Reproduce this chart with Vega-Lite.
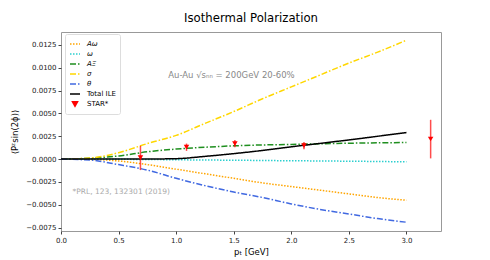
{
  "$schema": "https://vega.github.io/schema/vega-lite/v6.json",
  "width": 380,
  "height": 199,
  "autosize": {"type": "none"},
  "padding": {"left": 61, "top": 32, "right": 49, "bottom": 29},
  "title": {"text": "Isothermal Polarization", "fontSize": 11.7, "font": "DejaVu Sans", "fontWeight": "normal", "offset": 7, "color": "#000"},
  "config": {
    "font": "DejaVu Sans",
    "view": {"stroke": "#999", "strokeWidth": 1},
    "axis": {"grid": false, "domain": false, "tickColor": "#444", "labelColor": "#222", "labelFontSize": 7, "titleFontSize": 8.5, "titleFontWeight": "normal", "titleColor": "#000", "tickSize": 3, "labelPadding": 2, "labelOverlap": false, "labelFlush": false}
  },
  "datasets": {
    "curves": [
      {"series": "Aω", "pt": 0, "val": 0}, {"series": "Aω", "pt": 0.25, "val": -0.00003}, {"series": "Aω", "pt": 0.5, "val": -0.0002}, {"series": "Aω", "pt": 0.75, "val": -0.0006}, {"series": "Aω", "pt": 1.0, "val": -0.0011}, {"series": "Aω", "pt": 1.25, "val": -0.0016}, {"series": "Aω", "pt": 1.5, "val": -0.0021}, {"series": "Aω", "pt": 1.75, "val": -0.0026}, {"series": "Aω", "pt": 2.0, "val": -0.003}, {"series": "Aω", "pt": 2.25, "val": -0.0034}, {"series": "Aω", "pt": 2.5, "val": -0.0038}, {"series": "Aω", "pt": 2.75, "val": -0.0042}, {"series": "Aω", "pt": 3.0, "val": -0.0045},
      {"series": "ω", "pt": 0, "val": 0}, {"series": "ω", "pt": 0.25, "val": 0}, {"series": "ω", "pt": 0.5, "val": -0.00002}, {"series": "ω", "pt": 0.75, "val": -0.00004}, {"series": "ω", "pt": 1.0, "val": -0.00007}, {"series": "ω", "pt": 1.25, "val": -0.0001}, {"series": "ω", "pt": 1.5, "val": -0.00012}, {"series": "ω", "pt": 1.75, "val": -0.00015}, {"series": "ω", "pt": 2.0, "val": -0.00018}, {"series": "ω", "pt": 2.25, "val": -0.0002}, {"series": "ω", "pt": 2.5, "val": -0.00023}, {"series": "ω", "pt": 2.75, "val": -0.00026}, {"series": "ω", "pt": 3.0, "val": -0.0003},
      {"series": "AΞ", "pt": 0, "val": 0}, {"series": "AΞ", "pt": 0.25, "val": 0.0001}, {"series": "AΞ", "pt": 0.5, "val": 0.00035}, {"series": "AΞ", "pt": 0.75, "val": 0.0008}, {"series": "AΞ", "pt": 1.0, "val": 0.0011}, {"series": "AΞ", "pt": 1.25, "val": 0.0013}, {"series": "AΞ", "pt": 1.5, "val": 0.00145}, {"series": "AΞ", "pt": 1.75, "val": 0.00155}, {"series": "AΞ", "pt": 2.0, "val": 0.0016}, {"series": "AΞ", "pt": 2.25, "val": 0.00168}, {"series": "AΞ", "pt": 2.5, "val": 0.00174}, {"series": "AΞ", "pt": 2.75, "val": 0.00178}, {"series": "AΞ", "pt": 3.0, "val": 0.00182},
      {"series": "σ", "pt": 0, "val": 0}, {"series": "σ", "pt": 0.25, "val": 0.00012}, {"series": "σ", "pt": 0.5, "val": 0.0007}, {"series": "σ", "pt": 0.75, "val": 0.0017}, {"series": "σ", "pt": 1.0, "val": 0.0026}, {"series": "σ", "pt": 1.25, "val": 0.0039}, {"series": "σ", "pt": 1.5, "val": 0.0052}, {"series": "σ", "pt": 1.75, "val": 0.0066}, {"series": "σ", "pt": 2.0, "val": 0.0079}, {"series": "σ", "pt": 2.25, "val": 0.0092}, {"series": "σ", "pt": 2.5, "val": 0.0105}, {"series": "σ", "pt": 2.75, "val": 0.0117}, {"series": "σ", "pt": 3.0, "val": 0.013},
      {"series": "θ", "pt": 0, "val": 0}, {"series": "θ", "pt": 0.25, "val": -0.0001}, {"series": "θ", "pt": 0.5, "val": -0.0006}, {"series": "θ", "pt": 0.75, "val": -0.0012}, {"series": "θ", "pt": 1.0, "val": -0.0021}, {"series": "θ", "pt": 1.25, "val": -0.0029}, {"series": "θ", "pt": 1.5, "val": -0.0036}, {"series": "θ", "pt": 1.75, "val": -0.0042}, {"series": "θ", "pt": 2.0, "val": -0.0049}, {"series": "θ", "pt": 2.25, "val": -0.0055}, {"series": "θ", "pt": 2.5, "val": -0.006}, {"series": "θ", "pt": 2.75, "val": -0.0065}, {"series": "θ", "pt": 3.0, "val": -0.0069},
      {"series": "Total ILE", "pt": 0, "val": 0}, {"series": "Total ILE", "pt": 0.25, "val": 0}, {"series": "Total ILE", "pt": 0.5, "val": 0}, {"series": "Total ILE", "pt": 0.75, "val": 0.00001}, {"series": "Total ILE", "pt": 1.0, "val": 0.00005}, {"series": "Total ILE", "pt": 1.25, "val": 0.0003}, {"series": "Total ILE", "pt": 1.5, "val": 0.0006}, {"series": "Total ILE", "pt": 1.75, "val": 0.00095}, {"series": "Total ILE", "pt": 2.0, "val": 0.00135}, {"series": "Total ILE", "pt": 2.25, "val": 0.00172}, {"series": "Total ILE", "pt": 2.5, "val": 0.0021}, {"series": "Total ILE", "pt": 2.75, "val": 0.0025}, {"series": "Total ILE", "pt": 3.0, "val": 0.0029}
    ],
    "star": [
      {"series": "STAR*", "pt": 0.69, "val": 0.00015, "lo": -0.0012, "hi": 0.00145},
      {"series": "STAR*", "pt": 1.09, "val": 0.0013, "lo": 0.0009, "hi": 0.0017},
      {"series": "STAR*", "pt": 1.51, "val": 0.0017, "lo": 0.0013, "hi": 0.0021},
      {"series": "STAR*", "pt": 2.11, "val": 0.00148, "lo": 0.00108, "hi": 0.00188},
      {"series": "STAR*", "pt": 3.21, "val": 0.0022, "lo": 0.00008, "hi": 0.0043}
    ],
    "note1": [
      {"pt": 1.48, "val": 0.0092, "label": "Au-Au √sₙₙ = 200GeV 20-60%"}
    ],
    "note2": [
      {"pt": 0.1, "val": -0.0036, "label": "*PRL, 123, 132301 (2019)"}
    ]
  },
  "layer": [
    {
      "data": {"name": "curves"},
      "mark": {"type": "line", "interpolate": "monotone"},
      "encoding": {
        "x": {"field": "pt", "type": "quantitative", "scale": {"domain": [0, 3.3], "nice": false, "zero": false},
              "axis": {"values": [0, 0.5, 1, 1.5, 2, 2.5, 3], "format": ".1f", "title": "pₜ [GeV]", "tickCount": 20}},
        "y": {"field": "val", "type": "quantitative", "scale": {"domain": [-0.00786, 0.0139], "nice": false},
              "axis": {"values": [-0.0075, -0.005, -0.0025, 0, 0.0025, 0.005, 0.0075, 0.01, 0.0125], "format": ".4f", "title": "⟨Pᶻsin(2ϕ)⟩", "titlePadding": 6, "tickCount": 20}},
        "color": {"field": "series", "type": "nominal",
          "scale": {"domain": ["Aω", "ω", "AΞ", "σ", "θ", "Total ILE", "STAR*"], "range": ["#ffa500", "#2ccfcf", "#1f8f1f", "#ffd700", "#4169e1", "#000000", "#ff0000"]},
          "legend": {"title": null, "orient": "none", "legendX": 4, "legendY": 2, "fillColor": "white", "strokeColor": "#ddd", "cornerRadius": 2, "padding": 4, "labelFontSize": 7, "symbolSize": 100, "rowPadding": 1, "symbolStrokeWidth": 1.5, "symbolType": "stroke", "labelOffset": 6,
            "encode": {
              "symbols": {"update": {
                "shape": {"signal": "datum.value === 'STAR*' ? 'triangle-down' : 'stroke'"},
                "fill": {"signal": "datum.value === 'STAR*' ? '#ff0000' : 'transparent'"},
                "size": {"signal": "datum.value === 'STAR*' ? 25 : 100"}
              }},
              "labels": {"update": {
                "fontStyle": {"signal": "indexof(['Aω','ω','AΞ','σ','θ'], datum.value) >= 0 ? 'italic' : 'normal'"}
              }}
            }}},
        "strokeDash": {"field": "series", "type": "nominal",
          "scale": {"domain": ["Aω", "ω", "AΞ", "σ", "θ", "Total ILE", "STAR*"], "range": [[1.5, 1.5], [1.5, 1.5], [6, 2, 1.5, 2], [6, 2, 1.5, 2], [6, 2, 1.5, 2], [1, 0], [1, 0]]}},
        "strokeWidth": {"field": "series", "type": "nominal", "legend": null,
          "scale": {"domain": ["Aω", "ω", "AΞ", "σ", "θ", "Total ILE"], "range": [1.5, 1.5, 1.5, 1.5, 1.5, 2]}}
      }
    },
    {
      "mark": {"type": "rule", "color": "#999", "strokeWidth": 1},
      "encoding": {"y": {"datum": 0, "type": "quantitative"}}
    },
    {
      "data": {"name": "star"},
      "mark": {"type": "rule", "color": "#ff0000", "opacity": 0.7, "strokeWidth": 1.5},
      "encoding": {
        "x": {"field": "pt", "type": "quantitative"},
        "y": {"field": "lo", "type": "quantitative"},
        "y2": {"field": "hi"}
      }
    },
    {
      "data": {"name": "star"},
      "mark": {"type": "point", "shape": "triangle-down", "filled": true, "size": 30, "opacity": 1},
      "encoding": {
        "x": {"field": "pt", "type": "quantitative"},
        "y": {"field": "val", "type": "quantitative"},
        "color": {"field": "series", "type": "nominal"}
      }
    },
    {
      "data": {"name": "note1"},
      "mark": {"type": "text", "color": "#888", "fontSize": 8.5, "baseline": "middle", "align": "center"},
      "encoding": {
        "x": {"field": "pt", "type": "quantitative"},
        "y": {"field": "val", "type": "quantitative"},
        "text": {"field": "label"}
      }
    },
    {
      "data": {"name": "note2"},
      "mark": {"type": "text", "color": "#aaa", "fontSize": 7.5, "baseline": "middle", "align": "left"},
      "encoding": {
        "x": {"field": "pt", "type": "quantitative"},
        "y": {"field": "val", "type": "quantitative"},
        "text": {"field": "label"}
      }
    }
  ]
}
